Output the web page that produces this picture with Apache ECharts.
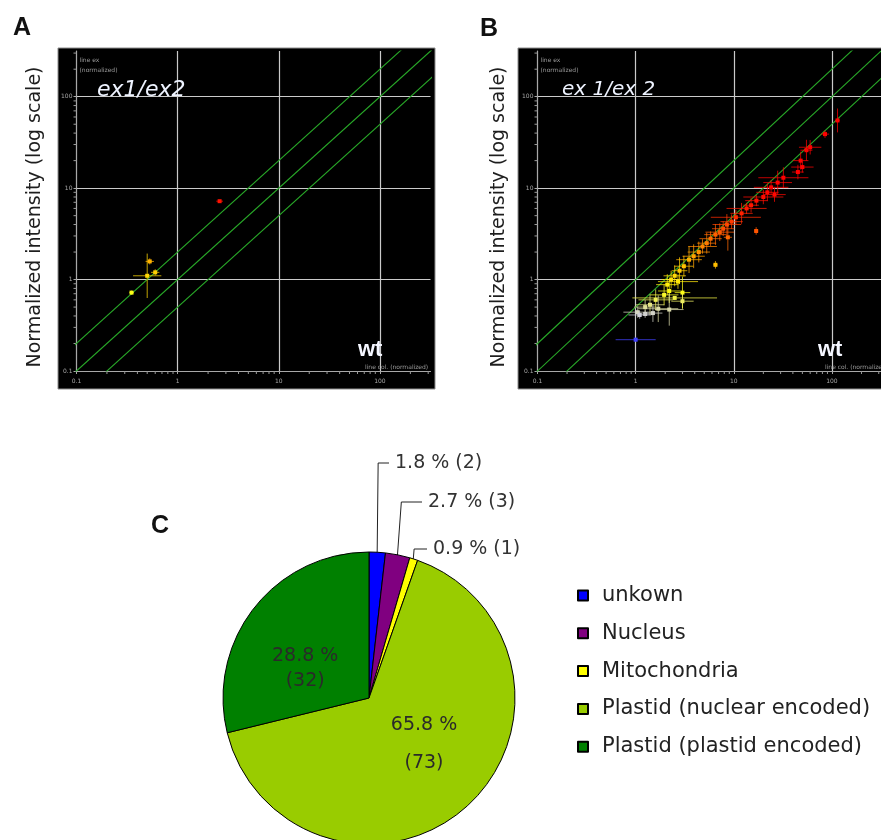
<!DOCTYPE html>
<html>
<head>
<meta charset="utf-8">
<script src="https://cdn.jsdelivr.net/npm/echarts@6/dist/echarts.min.js"></script>
<style>
  html, body { margin: 0; padding: 0; background: #fff; }
  #chart { width: 881px; height: 840px; }
</style>
</head>
<body>
<div id="chart"></div>
<script>
// ---- Panel A: ex1/ex2 against wild type (normalized intensities) ----
const aWt    = [0.35, 0.50, 0.53, 0.60, 2.6];
const aEx    = [0.72, 1.10, 1.58, 1.20, 7.2];
const aWtErr = [1.05, 1.38, 1.10, 1.10, 1.08];   // multiplicative spread of the horizontal bar
const aExErr = [1.05, 1.75, 1.08, 1.08, 1.03];   // multiplicative spread of the vertical bar

// ---- Panel B: ex1/ex2 against wild type, full protein set ----
const bWt = [114, 85, 60, 55, 48, 50, 45, 32, 28, 24, 22, 20, 26, 17, 15, 13.5, 12, 10.5, 9.5, 8.5,
             8.7, 16.9, 7.8, 7.2, 6.5, 5.8, 5.3, 4.8, 4.4, 3.9, 3.5, 6.5, 3.1, 2.8, 2.5, 2.3, 2.7, 2.1,
             2.2, 3.0, 1.95, 2.5, 1.6, 1.4, 1.25, 1.7, 2.2, 1.05, 1.1, 1.25, 3.0, 1.0, 1.5];
const bEx = [55, 39, 28, 26, 20, 17, 15, 13, 11.5, 10.2, 9.0, 8.0, 8.5, 7.3, 6.5, 6.0, 5.3, 4.8, 4.3, 4.0,
             2.9, 3.4, 3.6, 3.3, 3.1, 2.8, 2.5, 2.3, 2.0, 1.8, 1.65, 1.45, 1.4, 1.25, 1.1, 1.0, 0.95, 0.88,
             0.75, 0.72, 0.68, 0.63, 0.60, 0.53, 0.50, 0.48, 0.47, 0.44, 0.41, 0.42, 0.58, 0.22, 0.43];
const bWtErr = [1.05, 1.1, 1.3, 1.15, 1.2, 1.3, 1.15, 1.8, 1.4, 1.5, 1.3, 1.6, 1.3, 1.3, 1.2, 1.6, 1.3, 1.8, 1.3, 1.4,
                1.1, 1.05, 1.3, 1.4, 1.3, 1.3, 1.25, 1.4, 1.3, 1.3, 1.35, 1.05, 1.25, 1.2, 1.3, 1.25, 1.6, 1.3,
                1.3, 1.2, 1.4, 2.7, 1.5, 1.4, 1.3, 1.6, 1.4, 1.4, 1.3, 1.2, 1.3, 1.6, 1.25];
const bExErr = [1.35, 1.1, 1.2, 1.3, 1.25, 1.15, 1.2, 1.3, 1.35, 1.2, 1.25, 1.2, 1.2, 1.15, 1.2, 1.15, 1.3, 1.2, 1.2, 1.3,
                1.4, 1.1, 1.2, 1.25, 1.3, 1.2, 1.3, 1.2, 1.3, 1.35, 1.4, 1.1, 1.3, 1.4, 1.3, 1.25, 1.2, 1.3,
                1.35, 1.5, 1.3, 1.05, 1.3, 1.3, 1.2, 1.4, 1.5, 1.15, 1.1, 1.1, 1.2, 1.05, 1.25];

// Reference ratios ex/wt drawn as diagonals (2-fold up, equal, 2-fold down)
const bandRatios = [2, 1, 0.5];

// Axis range and decade labels shared by both scatter panels
const logMin = 0.1;
const logMax = 316.2;
const decadeTicks = ['0.1', '1', '10', '100'];

// ---- Panel C: predicted localisation of the proteins ----
const locNames  = ['unkown', 'Nucleus', 'Mitochondria', 'Plastid (nuclear encoded)', 'Plastid (plastid encoded)'];
const locCounts = [2, 3, 1, 73, 32];
const locColors = ['#0000ff', '#800080', '#ffff00', '#99cc00', '#008000'];

const FONT = 'DejaVu Sans';

function buildPoints(wt, ex, wtErr, exErr) {
  return wt.map((x, i) => [x, ex[i], x / wtErr[i], x * wtErr[i], ex[i] / exErr[i], ex[i] * exErr[i], Math.log10(ex[i])]);
}

// minor tick values 2..9 within each decade of the log axes
const minorTickValues = [];
[0.1, 1, 10, 100].forEach(d => { for (let k = 2; k <= 9; k++) { if (k * d <= logMax) minorTickValues.push(k * d); } });

function renderCross(params, api) {
  const x = api.value(0), y = api.value(1);
  const c = api.coord([x, y]);
  const pl = api.coord([api.value(2), y]), ph = api.coord([api.value(3), y]);
  const ql = api.coord([x, api.value(4)]), qh = api.coord([x, api.value(5)]);
  const color = api.visual('color');
  return {
    type: 'group',
    children: [
      { type: 'line', shape: { x1: pl[0], y1: pl[1], x2: ph[0], y2: ph[1] }, style: { stroke: color, lineWidth: 1, opacity: 0.75 } },
      { type: 'line', shape: { x1: ql[0], y1: ql[1], x2: qh[0], y2: qh[1] }, style: { stroke: color, lineWidth: 1, opacity: 0.75 } },
      { type: 'rect', shape: { x: c[0] - 2, y: c[1] - 2, width: 4, height: 4 }, style: { fill: color } }
    ]
  };
}

function renderMinorTick(params, api) {
  const v = api.value(0);
  const px = api.coord([v, logMin]);
  const py = api.coord([logMin, v]);
  const st = { stroke: '#9a9a9a', lineWidth: 1 };
  return {
    type: 'group',
    children: [
      { type: 'line', shape: { x1: px[0], y1: px[1], x2: px[0], y2: px[1] + 3 }, style: st },
      { type: 'line', shape: { x1: py[0] - 3, y1: py[1], x2: py[0], y2: py[1] }, style: st }
    ]
  };
}

function logAxis(gridIndex, isX) {
  return {
    type: 'log', logBase: 10, gridIndex: gridIndex,
    min: logMin, max: logMax, interval: 1,
    axisLine: { show: true, lineStyle: { color: '#a8a8a8', width: 1 } },
    axisTick: { show: true, length: 3, lineStyle: { color: '#a8a8a8' } },
    axisLabel: {
      fontSize: 6, color: '#a8a8a8', margin: isX ? 7 : 4, showMaxLabel: false,
      formatter: v => { const s = decadeTicks.find(t => Math.abs(parseFloat(t) - v) < 1e-6 * Math.max(1, v)); return s || ''; }
    },
    splitLine: { show: true, lineStyle: { color: ['#cacaca', '#cacaca', '#cacaca', '#cacaca', 'rgba(0,0,0,0)'], width: 1.2 } }
  };
}

const series = [];
[0, 1].forEach(g => {
  bandRatios.forEach(r => {
    series.push({
      type: 'line', xAxisIndex: g, yAxisIndex: g, symbol: 'none', silent: true, clip: true,
      lineStyle: { color: '#28a828', width: 1.1 },
      data: [[0.01, 0.01 * r], [1000, 1000 * r]], z: 3
    });
  });
  series.push({
    type: 'custom', xAxisIndex: g, yAxisIndex: g, silent: true, clip: false,
    renderItem: renderMinorTick, encode: { x: 0, y: 1 },
    data: minorTickValues.map(v => [v, v]), z: 2
  });
});
const crossA = series.length;
series.push({
  type: 'custom', xAxisIndex: 0, yAxisIndex: 0, clip: true, renderItem: renderCross,
  encode: { x: 0, y: 1 }, data: buildPoints(aWt, aEx, aWtErr, aExErr), z: 5
});
const crossB = series.length;
series.push({
  type: 'custom', xAxisIndex: 1, yAxisIndex: 1, clip: true, renderItem: renderCross,
  encode: { x: 0, y: 1 }, data: buildPoints(bWt, bEx, bWtErr, bExErr), z: 5
});

// pie geometry and callout placement for the three thin slices
const pieCenter = [369, 698];
const pieRadius = 146;
const calloutOffsets = [[26, -89], [59, -50], [64, -3]];   // label left / middle, relative to pie top
const insideShift = { 3: [4, -10], 4: [-4, 17] };

const total = locCounts.reduce((s, v) => s + v, 0);
function sliceMidAngle(i) {
  let before = 0;
  for (let k = 0; k < i; k++) before += locCounts[k];
  return (before + locCounts[i] / 2) / total * 2 * Math.PI;
}

series.push({
  type: 'pie', center: pieCenter, radius: pieRadius, startAngle: 90, clockwise: true,
  percentPrecision: 1, silent: true,
  itemStyle: { borderColor: '#000', borderWidth: 1 },
  label: {
    show: true, position: 'outside', fontFamily: FONT, fontSize: 19, color: '#333',
    formatter: '{d} % ({c})'
  },
  labelLine: { show: true, length: 10, length2: 10, lineStyle: { color: '#222', width: 1 } },
  labelLayout: function (p) {
    const i = p.dataIndex;
    if (i < 3) {
      const a = sliceMidAngle(i);
      const ex = pieCenter[0] + (pieRadius - 2) * Math.sin(a);
      const ey = pieCenter[1] - (pieRadius - 2) * Math.cos(a);
      const lx = pieCenter[0] + calloutOffsets[i][0];
      const ly = pieCenter[1] - pieRadius + calloutOffsets[i][1];
      return {
        x: lx, y: ly, align: 'left', verticalAlign: 'middle',
        labelLinePoints: [[ex, ey], [ex + (i === 1 ? 4 : 1), ly], [lx - 6, ly]]
      };
    }
    const s = insideShift[i];
    return { dx: s[0], dy: s[1] };
  },
  data: locNames.map((n, i) => {
    const item = { name: n, value: locCounts[i], itemStyle: { color: locColors[i] } };
    if (i >= 3) {
      item.label = {
        position: 'inside', align: 'center',
        formatter: i === 3 ? '{d} %\n\n({c})' : '{d} %\n({c})',
        lineHeight: i === 3 ? 19 : 25, color: '#2a2a2a'
      };
      item.labelLine = { show: false };
    }
    return item;
  })
});

function panelGraphics(boxX, boxW, axisX, titleX, exText, exSize, exX, wtX) {
  return [
    { type: 'rect', z: -10, shape: { x: boxX, y: 48, width: boxW, height: 341 },
      style: { fill: '#000', stroke: '#8c8c8c', lineWidth: 1 } },
    { type: 'text', z: 10, x: axisX + 3, y: 55, style: { text: 'line ex\n(normalized)', font: '6px ' + FONT, fill: '#9a9a9a', lineHeight: 10 } },
    { type: 'text', z: 10, x: exX, y: 90, style: { text: exText, font: 'italic ' + exSize + 'px ' + FONT, fill: '#eef3ff', verticalAlign: 'middle' } },
    { type: 'text', z: 10, x: wtX, y: 350, style: { text: 'wt', font: 'bold 22px "Liberation Sans"', fill: '#f4f6ff', verticalAlign: 'middle' } },
    { type: 'text', z: 10, x: wtX + 7, y: 367, style: { text: 'line col. (normalized)', font: '6px ' + FONT, fill: '#9a9a9a', verticalAlign: 'middle' } },
    { type: 'text', z: 10, x: titleX, y: 217, rotation: Math.PI / 2,
      style: { text: 'Normalized intensity (log scale)', font: '19px ' + FONT, fill: '#1e1e1e', align: 'center', verticalAlign: 'middle' } }
  ];
}

const option = {
  animation: false,
  backgroundColor: '#fff',
  textStyle: { fontFamily: FONT },
  grid: [
    { left: 76.5, top: 51, width: 354, height: 320 },
    { left: 537.5, top: 51, width: 353, height: 320 }
  ],
  xAxis: [logAxis(0, true), logAxis(1, true)],
  yAxis: [logAxis(0, false), logAxis(1, false)],
  visualMap: {
    type: 'continuous', show: false, dimension: 6, seriesIndex: [crossA, crossB],
    min: -0.7, max: 1.0,
    inRange: { color: ['#2828ff', '#c8c8f0', '#ffff10', '#ffc000', '#ff7000', '#ff2200', '#ff0000'] }
  },
  legend: {
    orient: 'vertical', left: 572, top: 580, icon: 'rect', itemWidth: 10, itemHeight: 10,
    itemGap: 16.8, selectedMode: false, data: locNames,
    formatter: n => '{t|' + n + '}',
    textStyle: { rich: { t: { fontFamily: FONT, fontSize: 21, color: '#222', lineHeight: 24, padding: [0, 0, 0, 9] } } }
  },
  graphic: [
    ...panelGraphics(58, 377, 76.5, 35, 'ex1/ex2', 22, 97, 358),
    ...panelGraphics(518, 370, 537.5, 499, 'ex 1/ex 2', 20, 562, 818),
    { type: 'text', x: 13, y: 16, style: { text: 'A', font: 'bold 25px "Liberation Sans"', fill: '#111' } },
    { type: 'text', x: 480, y: 17, style: { text: 'B', font: 'bold 25px "Liberation Sans"', fill: '#111' } },
    { type: 'text', x: 151, y: 514, style: { text: 'C', font: 'bold 25px "Liberation Sans"', fill: '#111' } }
  ],
  series: series
};

const chart = echarts.init(document.getElementById('chart'), null, { renderer: 'canvas' });
chart.setOption(option);
</script>
</body>
</html>
